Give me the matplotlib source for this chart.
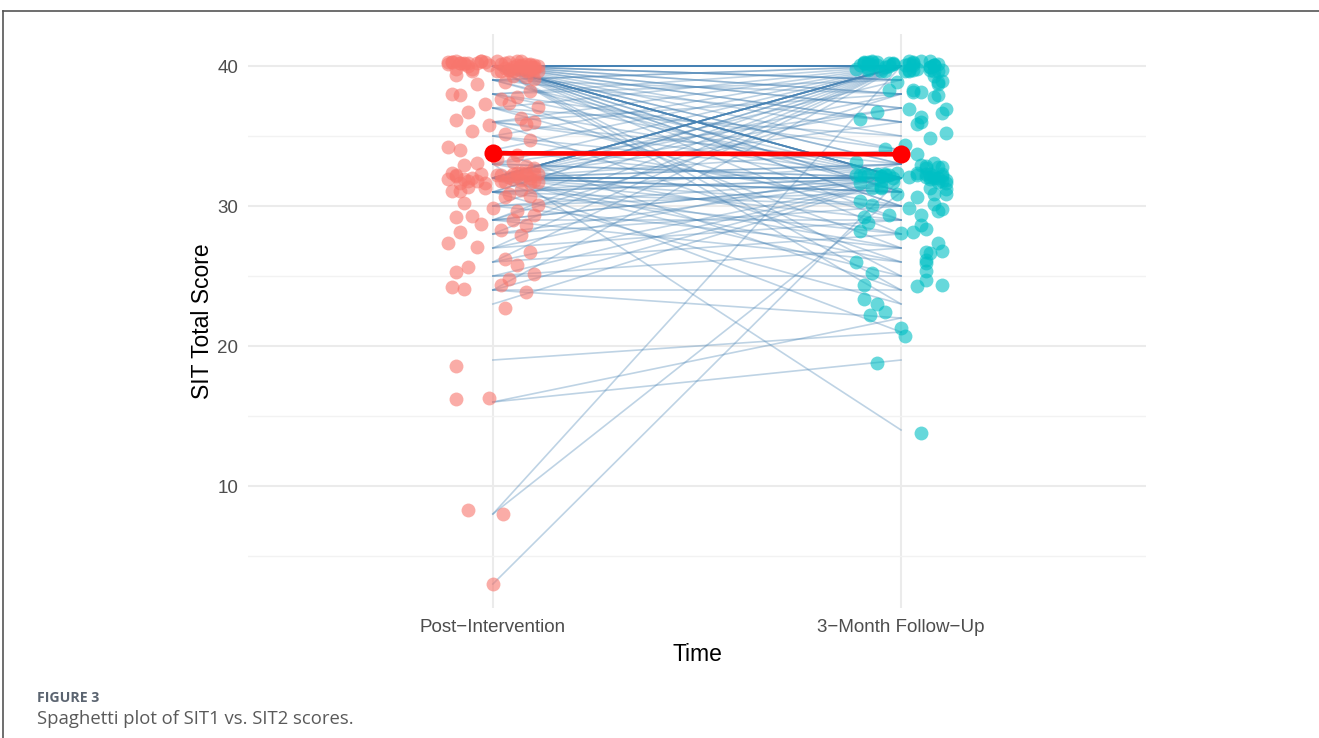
import matplotlib.pyplot as plt
import numpy as np
from matplotlib.lines import Line2D

# SIT total scores per participant (same order in both lists)
sit1 = ([40] * 50 + [39] * 6 + [38] * 5 + [37] * 4 + [36] * 5 + [35] * 3 + [34] * 3
        + [33] * 6 + [32] * 30 + [31] * 8 + [30] * 4 + [29] * 6 + [28] * 3 + [27] * 3
        + [26] * 3 + [25] * 3 + [24] * 4 + [23, 19, 16, 16, 8, 8, 3])

sit2 = [40, 32, 40, 39, 40, 33, 40, 32, 40, 36,
        40, 40, 31, 40, 38, 32, 40, 29, 40, 40,
        37, 32, 40, 24, 40, 39, 32, 40, 35, 40,
        30, 40, 32, 40, 38, 40, 33, 28, 32, 40,
        37, 31, 39, 32, 25, 36, 34, 30, 23, 40,
        40, 32, 40, 36, 38, 31,
        40, 32, 39, 34, 27,
        40, 32, 35, 29,
        40, 32, 38, 26, 33,
        40, 32, 30,
        40, 31, 24,
        40, 32, 14, 32, 37, 28,
        40, 32, 40, 33, 40, 31, 39, 32, 40, 27,
        32, 40, 38, 21, 40, 31, 36, 32, 40, 29,
        33, 32, 37, 40, 26, 31, 34, 32, 30, 25,
        40, 32, 40, 33, 30, 32, 28, 23,
        40, 32, 31, 27,
        40, 32, 38, 32, 29, 26,
        40, 32, 30,
        40, 33, 29,
        40, 32, 28,
        32, 27, 25,
        40, 32, 24, 22,
        32, 21, 22, 19, 40, 31, 32]

# jitter offsets used for the dots (time axis and score axis)
jit_x1 = [-0.08, 0.05, 0.10, -0.03, 0.07, -0.10, 0.02, 0.09, -0.06, 0.04,
          0.08, -0.01, -0.09, 0.06, 0.11, -0.05, 0.03, -0.11, 0.10, 0.01,
          -0.07, 0.09, 0.04, -0.02, 0.07, -0.09, 0.06, 0.10, -0.04, 0.08,
          0.02, -0.10, 0.09, 0.05, -0.06, 0.11, -0.03, 0.07, 0.03, -0.08,
          0.10, 0.06, -0.05, 0.08, -0.11, 0.04, 0.09, -0.07, 0.01, 0.07,
          -0.09, 0.03, 0.08, -0.04, 0.10, 0.05, -0.08, 0.02, 0.09, -0.10,
          0.06, -0.02, 0.11, -0.06, 0.04, 0.08, -0.09, 0.07, -0.01, 0.10,
          -0.05, 0.09, 0.03, -0.08, 0.06, -0.11, 0.08, 0.01, -0.07, 0.05,
          0.10, -0.04, 0.07, 0.02, -0.09, 0.09, -0.02, 0.06, 0.11, -0.06,
          0.04, -0.08, 0.08, -0.10, 0.05, 0.03, 0.10, -0.05, 0.07, -0.03,
          0.09, 0.01, -0.07, 0.06, -0.09, 0.11, 0.02, -0.04, 0.08, -0.11,
          0.05, 0.10, -0.06, 0.03, -0.08, 0.07, 0.09, -0.02, 0.04, -0.10,
          0.06, -0.07, 0.11, 0.00, -0.05, 0.08, -0.09, 0.05, 0.10, -0.03,
          -0.08, 0.07, 0.02, -0.11, 0.09, -0.04, 0.06, 0.03, -0.06, 0.10,
          -0.09, 0.04, -0.07, 0.08, -0.10, 0.02, 0.03, -0.09, -0.09, -0.01,
          -0.06, 0.025, 0.00]

jit_y1 = [0.21, -0.33, 0.05, 0.38, -0.12, 0.27, -0.36, 0.14, -0.02, 0.31,
          -0.25, 0.09, 0.35, -0.18, 0.02, -0.39, 0.24, 0.11, -0.29, 0.33,
          0.16, -0.07, -0.31, 0.28, 0.37, -0.21, 0.06, -0.14, 0.22, -0.37,
          0.12, 0.30, -0.26, -0.04, 0.19, -0.34, 0.36, 0.00, -0.17, 0.25,
          -0.09, 0.39, -0.23, 0.13, 0.29, -0.30, 0.04, 0.18, -0.38, 0.08,
          0.34, -0.15, 0.23, -0.28, 0.10, 0.32, -0.06, -0.35, 0.20, 0.01,
          -0.20, 0.26, 0.07, -0.32, 0.37, -0.11, 0.15, 0.30, -0.24, -0.03,
          0.35, -0.27, 0.17, 0.03, -0.36, 0.24, -0.13, 0.38, -0.08, 0.11,
          -0.30, 0.06, 0.33, -0.19, 0.25, -0.01, -0.39, 0.14, 0.29, -0.22,
          0.09, -0.34, 0.21, 0.36, -0.10, -0.25, 0.31, 0.02, -0.16, 0.27,
          -0.37, 0.18, -0.05, 0.34, 0.12, -0.29, 0.22, -0.18, 0.39, -0.07,
          0.26, -0.21, 0.37, -0.33, 0.05, 0.16, -0.26, 0.32, -0.12, 0.08,
          -0.35, 0.23, 0.10, -0.15, 0.30, -0.38, 0.19, -0.02, 0.35, -0.27,
          0.13, -0.09, 0.28, 0.36, -0.31, 0.04, -0.19, 0.25, -0.36, 0.17,
          0.32, -0.24, 0.07, -0.13, 0.21, 0.38, -0.30, -0.40, 0.20, 0.30,
          0.30, 0.00, 0.00]

jit_x2 = [0.04, -0.09, 0.07, 0.10, -0.02, 0.06, -0.07, 0.09, 0.01, -0.10,
          0.08, -0.04, 0.11, -0.08, 0.03, 0.07, -0.11, 0.05, -0.03, 0.09,
          -0.06, 0.10, 0.02, -0.09, 0.08, -0.01, 0.06, -0.05, 0.11, 0.03,
          -0.10, 0.07, -0.03, 0.09, 0.05, -0.08, 0.10, 0.00, -0.06, 0.08,
          0.02, -0.07, 0.09, -0.11, 0.06, 0.04, -0.04, 0.10, -0.09, 0.07,
          -0.02, 0.11, -0.08, 0.05, 0.08, -0.05, 0.03, -0.10, 0.09, 0.01,
          0.10, -0.06, 0.04, 0.07, -0.09, 0.02, 0.08, -0.03, 0.06, -0.11,
          0.05, 0.09, -0.07, 0.03, -0.01, 0.10, -0.08, 0.06, 0.05, -0.04,
          0.11, -0.10, 0.07, -0.05, 0.02, 0.09, -0.07, 0.04, 0.08, -0.02,
          -0.09, 0.06, 0.10, -0.04, 0.03, 0.01, -0.06, 0.11, 0.05, -0.10,
          0.08, -0.03, 0.06, -0.08, 0.10, 0.02, -0.11, 0.07, 0.04, -0.05,
          0.09, -0.07, 0.01, 0.10, -0.09, 0.05, 0.08, -0.02, 0.06, -0.06,
          0.03, 0.11, -0.05, 0.07, -0.10, 0.04, 0.09, -0.01, -0.08, 0.06,
          0.10, -0.04, 0.02, -0.07, 0.08, 0.05, -0.09, 0.07, 0.03, -0.05,
          0.09, 0.06, -0.02, 0.08, 0.04, -0.04, 0.07, 0.00, -0.075, -0.06,
          -0.03, 0.08, 0.02]

jit_y2 = [-0.18, 0.27, 0.33, -0.06, 0.15, -0.29, 0.38, 0.02, -0.34, 0.21,
          0.10, -0.37, 0.24, -0.13, 0.30, 0.06, -0.22, 0.36, -0.01, 0.17,
          -0.31, 0.12, -0.26, 0.35, 0.04, -0.15, 0.28, -0.39, 0.19, 0.08,
          0.37, -0.10, 0.22, -0.33, 0.14, 0.31, -0.20, 0.05, 0.26, -0.36,
          -0.04, 0.32, -0.27, 0.18, 0.39, -0.12, 0.09, -0.24, 0.34, -0.08,
          0.25, -0.35, 0.13, 0.01, -0.19, 0.29, -0.30, 0.20, -0.11, 0.36,
          -0.23, 0.07, 0.38, -0.16, 0.23, -0.38, 0.11, 0.30, -0.05, 0.16,
          0.33, -0.28, 0.04, 0.24, -0.14, 0.37, -0.25, 0.09, -0.20, 0.27,
          -0.09, 0.20, -0.32, 0.14, 0.35, -0.21, 0.06, -0.37, 0.28, 0.00,
          0.19, -0.26, 0.31, -0.07, 0.12, -0.30, 0.26, -0.17, 0.38, -0.33,
          0.05, 0.34, -0.13, 0.22, -0.36, 0.15, -0.02, 0.29, -0.28, 0.11,
          -0.38, 0.23, 0.08, -0.22, 0.32, -0.10, 0.17, -0.31, 0.36, 0.03,
          0.27, -0.15, 0.35, -0.34, 0.10, 0.21, -0.06, 0.39, -0.23, 0.13,
          -0.29, 0.18, -0.12, 0.31, 0.06, -0.37, 0.24, -0.08, 0.14, -0.19,
          0.35, -0.25, 0.16, -0.03, 0.28, 0.40, 0.30, 0.30, 0.20, -0.20,
          0.22, -0.14, 0.10]

time_labels = ['Post\u2212Intervention', '3\u2212Month Follow\u2212Up']

sit1 = np.array(sit1, dtype=float)
sit2 = np.array(sit2, dtype=float)
mean1, mean2 = sit1.mean(), sit2.mean()

plt.rcParams['font.family'] = ['Liberation Sans', 'DejaVu Sans']

fig = plt.figure(figsize=(13.19, 7.38), dpi=100)
ax = fig.add_axes([0.188, 0.1762, 0.6808, 0.7778])

# one line per participant
for a, b in zip(sit1, sit2):
    ax.plot([1, 2], [a, b], color='#4682B4', alpha=0.35, linewidth=1.2, zorder=2)

# jittered individual scores
ax.scatter(1 + np.array(jit_x1), sit1 + np.array(jit_y1), s=100, color='#F8766D',
           alpha=0.6, linewidths=0, zorder=3)
ax.scatter(2 + np.array(jit_x2), sit2 + np.array(jit_y2), s=100, color='#00BFC4',
           alpha=0.6, linewidths=0, zorder=3)

# group means
ax.plot([1, 2], [mean1, mean2], color='#FF0000', linewidth=3.4, zorder=4)
ax.scatter([1, 2], [mean1, mean2], s=170, color='#FF0000', linewidths=0, zorder=5)

ax.set_xlim(0.4, 2.6)
ax.set_ylim(1.29, 42.29)
ax.set_xticks([1, 2])
ax.set_xticklabels(time_labels)
ax.set_yticks([10, 20, 30, 40])
ax.set_yticks([5, 15, 25, 35], minor=True)

# minimal theme: light grid, no spines or tick marks
ax.grid(True, which='major', color='#EBEBEB', linewidth=1.5)
ax.grid(True, which='minor', axis='y', color='#F2F2F2', linewidth=1.0)
ax.set_axisbelow(True)
for side in ax.spines.values():
    side.set_visible(False)
ax.tick_params(axis='both', which='both', length=0, colors='#4D4D4D')
ax.tick_params(axis='x', labelsize=13.5, pad=8)
ax.tick_params(axis='y', labelsize=13.5, pad=7)

ax.set_xlabel('Time', fontsize=16.5, color='black', labelpad=5)
ax.set_ylabel('SIT Total Score', fontsize=16.5, color='black', labelpad=2)

# figure frame and caption
fig.add_artist(Line2D([3 / 1319, 1], [1 - 11 / 738, 1 - 11 / 738], color='#555555', linewidth=1.2))
fig.add_artist(Line2D([3 / 1319, 3 / 1319], [0, 1 - 11 / 738], color='#555555', linewidth=1.2))
fig.text(37 / 1319, 1 - 698 / 738, 'FIGURE 3', fontsize=10.2, fontweight='bold',
         color='#5B6470', family=['Open Sans', 'DejaVu Sans'], va='center')
fig.text(37 / 1319, 1 - 719 / 738, 'Spaghetti plot of SIT1 vs. SIT2 scores.', fontsize=13.3,
         color='#5A5A5A', family=['Open Sans', 'DejaVu Sans'], va='center')

fig.savefig('out.png', dpi=100)
